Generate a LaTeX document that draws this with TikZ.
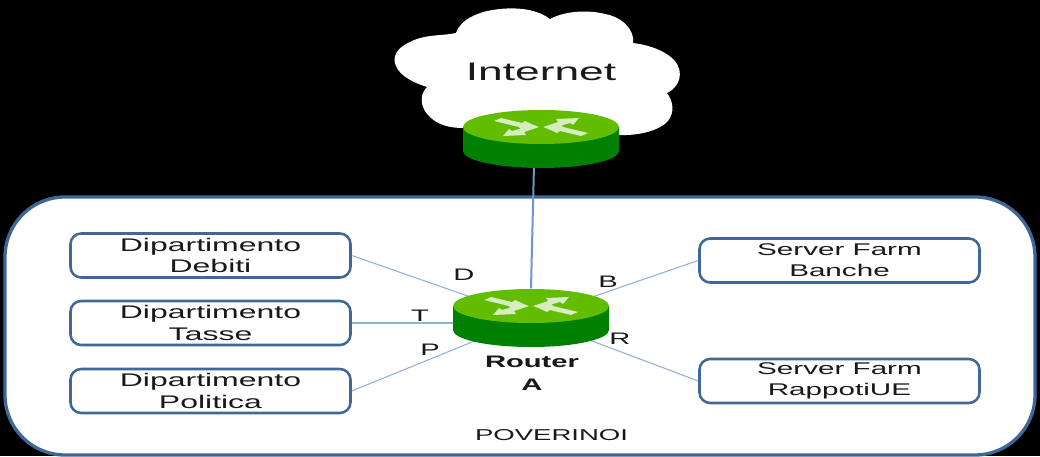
\documentclass[tikz,border=0pt]{standalone}
\usepackage{fontspec}
\usepackage{xcolor}
\usepackage{tikz}
\usetikzlibrary{shapes.geometric}
\setmainfont[FakeStretch=1.75]{Liberation Sans}
\definecolor{routertop}{HTML}{62BD00}
\definecolor{routerside}{HTML}{008000}
\definecolor{routerarrow}{HTML}{D5EDC0}
\definecolor{frameblue}{HTML}{3F6797}
\definecolor{linkblue}{HTML}{8FB1DC}
\definecolor{uplinkblue}{HTML}{6F96C8}
\tikzset{
  deptbox/.style={draw=frameblue, line width=1.9pt, rounded corners=8pt, fill=white,
    minimum width=210pt, minimum height=33pt, inner sep=0pt, align=center,
    font=\fontsize{13.7}{15.8}\selectfont, text=black!90},
  farmbox/.style={deptbox, font=\fontsize{12.7}{16}\selectfont},
  routeranchor/.style={ellipse, minimum width=117pt, minimum height=44pt, inner sep=0pt},
  link/.style={linkblue, line width=0.8pt},
  portlabel/.style={font=\fontsize{12.5}{15}\selectfont, text=black!90, inner sep=0pt},
  pics/routericon/.style={code={
    \fill[routerside] (-78,-13) -- (-78,11) arc[start angle=180, end angle=0, x radius=78, y radius=17]
      -- (78,-13) -- cycle;
    \fill[routertop] (0,-13) ellipse[x radius=78, y radius=17];
    % the four arrows, two pairs turned half round
    \foreach \flip in {1,-1} {
      \begin{scope}[yshift=13*0.75pt, scale=\flip]
        \fill[routerarrow] (-47,-6) -- (-40,-9) -- (-19,-4) -- (-16,-6) -- (-3,0) -- (-19,4) -- (-22,0) -- cycle;
        \fill[routerarrow] (2,0) -- (17,-5) -- (15,-8) -- (38,-9) -- (32,-2) -- (29,-4) -- (8,2) -- cycle;
      \end{scope}
    }
  }}
}

\begin{document}
\begin{tikzpicture}[x=0.75pt, y=-0.75pt]

  % background
  \fill[black] (0,0) rectangle (1040,456);

  % cloud
  \fill[white] (456,33) .. controls (443,36) and (425,34) .. (410,42)
    .. controls (396,48) and (392,58) .. (396,66)
    .. controls (400,76) and (414,83) .. (427,87)
    .. controls (419,95) and (420,108) .. (430,117)
    .. controls (438,125) and (450,128) .. (463,128)
    -- (618,135)
    .. controls (640,136) and (660,130) .. (668,121)
    .. controls (675,112) and (673,101) .. (667,93)
    .. controls (680,87) and (684,72) .. (675,61)
    .. controls (665,50) and (648,45) .. (633,43)
    .. controls (635,30) and (622,17) .. (605,14)
    .. controls (585,9) and (563,12) .. (550,19)
    .. controls (538,10) and (520,7) .. (500,9)
    .. controls (478,11) and (460,20) .. (456,33) -- cycle;
  \node[font=\fontsize{19}{22}\selectfont, text=black!90, inner sep=0pt] (internet) at (541,72) {Internet};

  % outer frame
  \draw[frameblue, line width=2.5pt, fill=white, rounded corners=45pt] (5,197) rectangle (1035,455);
  \node[font=\fontsize{11.8}{15}\selectfont, text=black!90, inner sep=0pt] (poverinoi) at (551.5,435) {POVERINOI};

  % boxes on the left and on the right
  \node[deptbox] (debiti) at (210.5,255.5) {Dipartimento\\Debiti};
  \node[deptbox] (tasse) at (210.5,323) {Dipartimento\\Tasse};
  \node[deptbox] (politica) at (210.5,391) {Dipartimento\\Politica};
  \node[farmbox] (banche) at (839.5,260.5) {Server Farm\\Banche};
  \node[farmbox] (rapporti) at (839.5,381) {Server Farm\\RappotiUE};

  % places where the links stop
  \node[routeranchor] (routerA) at (531,318) {};
  \coordinate (uplink) at (534,165);

  % links
  \draw[uplinkblue, line width=1.5pt] (uplink) -- (routerA.north);
  \draw[link] (debiti.east) -- (routerA);
  \draw[link] (tasse.east) -- (tasse.east -| routerA.west);
  \draw[link] (politica.east) -- (routerA);
  \draw[link] (banche.west) -- (routerA);
  \draw[link] (rapporti.west) -- (routerA);

  % routers
  \pic at (541,140) {routericon};
  \pic at (531,319) {routericon};

  % labels
  \node[portlabel] (portD) at (464,275) {D};
  \node[portlabel] (portT) at (420,316) {T};
  \node[portlabel] (portP) at (430,350) {P};
  \node[portlabel] (portB) at (608,282) {B};
  \node[portlabel] (portR) at (620,339) {R};
  \node[font=\fontsize{12.5}{17}\selectfont\bfseries, text=black!90, align=center, inner sep=0pt] (routerlabel) at (532,373) {Router\\A};

\end{tikzpicture}
\end{document}
